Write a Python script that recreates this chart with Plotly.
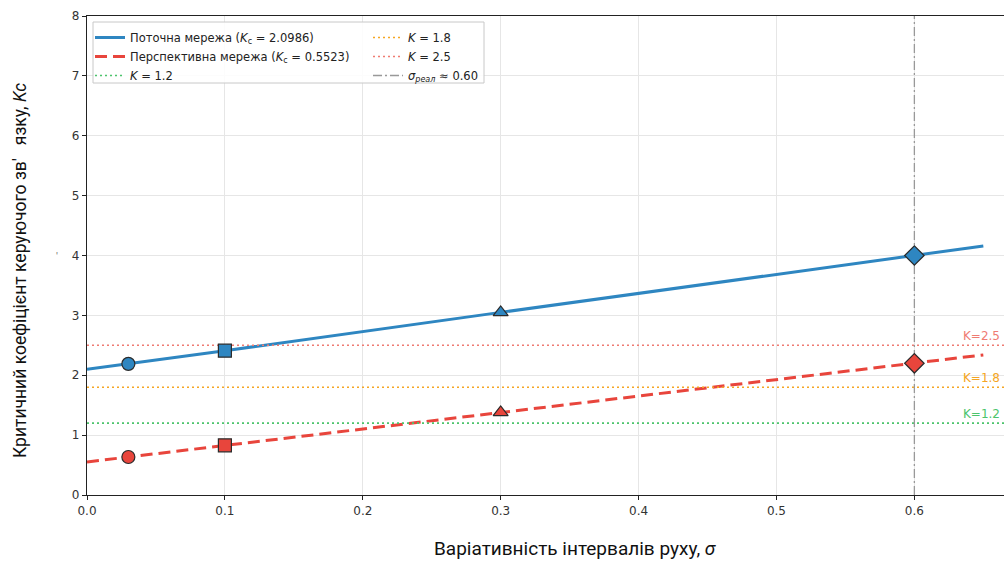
import plotly.graph_objects as go

# Variability of headway intervals (sigma) and critical control-coupling coefficient
sigma_line = [0.0, 0.03, 0.1, 0.3, 0.6, 0.65]
k_current = [2.0986, 2.19, 2.41, 3.05, 4.00, 4.16]
k_future = [0.5523, 0.635, 0.83, 1.38, 2.20, 2.34]

sigma_marks = [0.03, 0.1, 0.3, 0.6]
k_current_marks = [2.19, 2.41, 3.05, 4.00]
k_future_marks = [0.635, 0.83, 1.38, 2.20]
mark_symbols = ["circle", "square", "triangle-up", "diamond"]
mark_sizes = [13, 13, 13, 15]

k_levels = [1.2, 1.8, 2.5]
k_level_colors = ["#4cc46c", "#f5a623", "#ef7b72"]
sigma_real = 0.60

x_max = 0.665
x_ticks = [0.0, 0.1, 0.2, 0.3, 0.4, 0.5, 0.6]
y_ticks = [0, 1, 2, 3, 4, 5, 6, 7, 8]

BLUE = "#2e86c1"
RED = "#e8453c"
EDGE = "#2b2b2b"
FONT = "DejaVu Sans"
TITLE_FONT = "Roboto, Liberation Sans, sans-serif"

W, H = 1004, 561
L, T, B = 87, 16, 66
pw, ph = W - L, H - T - B


def px_x(p):
    return (p - L) / pw


def px_y(p):
    return 1 - (p - T) / ph


fig = go.Figure()

# Legend column 1: current network, future network, K=1.2
fig.add_trace(go.Scatter(
    x=sigma_line, y=k_current, mode="lines",
    line=dict(color=BLUE, width=3),
    name="Поточна мережа (<i>K</i><sub>c</sub> = 2.0986)", legend="legend"))
fig.add_trace(go.Scatter(
    x=sigma_line, y=k_future, mode="lines",
    line=dict(color=RED, width=3, dash="12px,6px"),
    name="Перспективна мережа (<i>K</i><sub>c</sub> = 0.5523)", legend="legend"))

level_legend = ["legend", "legend2", "legend2"]
for lvl, col, lg in zip(k_levels, k_level_colors, level_legend):
    fig.add_trace(go.Scatter(
        x=[0, x_max], y=[lvl, lvl], mode="lines",
        line=dict(color=col, width=1.6, dash="2px,3px"),
        name=f"<i>K</i> = {lvl}", legend=lg))

fig.add_trace(go.Scatter(
    x=[sigma_real, sigma_real], y=[0, 8], mode="lines",
    line=dict(color="#999999", width=1.3, dash="9px,3px,2px,3px"),
    name=f"<i>σ<sub>реал</sub></i> ≈ {sigma_real:.2f}", legend="legend2"))

# Reference points on both curves
fig.add_trace(go.Scatter(
    x=sigma_marks, y=k_current_marks, mode="markers", showlegend=False,
    marker=dict(symbol=mark_symbols, size=mark_sizes, color=BLUE, opacity=1,
                line=dict(color=EDGE, width=1.2))))
fig.add_trace(go.Scatter(
    x=sigma_marks, y=k_future_marks, mode="markers", showlegend=False,
    marker=dict(symbol=mark_symbols, size=mark_sizes, color=RED, opacity=1,
                line=dict(color=EDGE, width=1.2))))

# Threshold labels on the right
for lvl, col in zip(k_levels, k_level_colors):
    fig.add_annotation(x=x_max, y=lvl, xref="x", yref="y", text=f"K={lvl}",
                       showarrow=False, xanchor="right", yanchor="bottom",
                       xshift=-2, yshift=0,
                       font=dict(family=FONT, size=12, color=col))

# Axis titles
fig.add_annotation(x=px_x(575), y=px_y(548), xref="paper", yref="paper",
                   text="Варіативність інтервалів руху, <i>σ</i>",
                   showarrow=False, xanchor="center", yanchor="middle",
                   font=dict(family=TITLE_FONT, size=19, color="#111"))
fig.add_annotation(x=px_x(20), y=px_y(271), xref="paper", yref="paper",
                   text="Критичний коефіцієнт керуючого зв'   язку, <i>Kc</i>",
                   showarrow=False, textangle=-90, xanchor="center", yanchor="middle",
                   font=dict(family=TITLE_FONT, size=17.5, color="#111"))
fig.add_annotation(x=px_x(57), y=px_y(256), xref="paper", yref="paper",
                   text="'", showarrow=False, xanchor="center", yanchor="middle",
                   font=dict(family="Liberation Sans", size=10, color="#777"))

# Legend frame
fig.add_shape(type="rect", xref="paper", yref="paper",
              x0=px_x(93), x1=px_x(484), y0=px_y(83), y1=px_y(22),
              line=dict(color="#c8c8c8", width=1), fillcolor="rgba(255,255,255,0.85)",
              layer="above")

legend_common = dict(font=dict(family=FONT, size=11.5, color="#222"),
                     bgcolor="rgba(0,0,0,0)", borderwidth=0, itemwidth=30,
                     xanchor="left", yanchor="top", tracegroupgap=0)

fig.update_layout(
    width=W, height=H,
    margin=dict(l=L, r=0, t=T, b=B),
    plot_bgcolor="white", paper_bgcolor="white",
    showlegend=True,
    legend=dict(x=px_x(90), y=px_y(23), **legend_common),
    legend2=dict(x=px_x(368), y=px_y(23), **legend_common),
    xaxis=dict(range=[0, x_max], tickvals=x_ticks, ticktext=[f"{v:.1f}" for v in x_ticks],
               showgrid=True, gridcolor="#e6e6e6", gridwidth=1, zeroline=False,
               showline=True, linecolor="#222", linewidth=1.2, mirror=True,
               ticks="outside", ticklen=4, tickcolor="#222",
               tickfont=dict(family=FONT, size=12, color="#333")),
    yaxis=dict(range=[0, 8], tickvals=y_ticks,
               showgrid=True, gridcolor="#e6e6e6", gridwidth=1, zeroline=False,
               showline=True, linecolor="#222", linewidth=1.2, mirror=True,
               ticks="outside", ticklen=4, tickcolor="#222",
               tickfont=dict(family=FONT, size=12, color="#333")),
)

fig.write_html("out.html")
